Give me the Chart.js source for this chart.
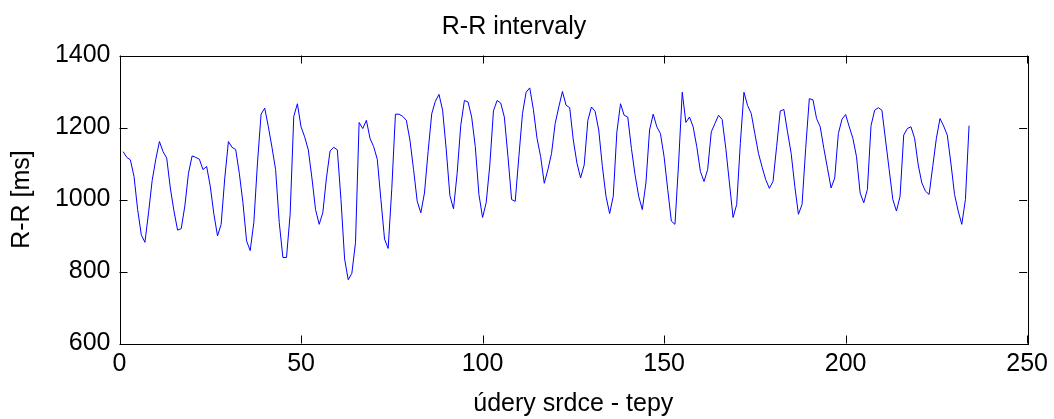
<!DOCTYPE html>
<html>
<head>
<meta charset="utf-8">
<script src="https://cdn.jsdelivr.net/npm/chart.js@4"></script>
<style>
  body { margin: 0; background: #fff; }
  #wrap { width: 1054px; height: 419px; }
</style>
</head>
<body>
<div id="wrap"><canvas id="chart-area" width="1054" height="419"></canvas></div>
<script>
// R-R intervals (ms), one per heart beat
var rrValues = [
  1133, 1117, 1110, 1064, 972, 902, 881, 963, 1053, 1112,
  1161, 1133, 1115, 1032, 968, 915, 919, 982, 1073, 1121,
  1117, 1112, 1083, 1092, 1037, 959, 899, 931, 1060, 1161,
  1145, 1139, 1073, 991, 885, 858, 936, 1101, 1237, 1254,
  1202, 1145, 1083, 936, 839, 839, 959, 1231, 1266, 1202,
  1174, 1138, 1060, 972, 931, 963, 1060, 1135, 1145, 1138,
  1000, 835, 777, 795, 880, 1214, 1197, 1220, 1170, 1147,
  1112, 1000, 890, 864, 1030, 1237, 1237, 1231, 1220, 1165,
  1083, 995, 963, 1018, 1133, 1238, 1273, 1292, 1248, 1138,
  1011, 974, 1073, 1206, 1275, 1271, 1229, 1147, 1014, 950,
  991, 1096, 1246, 1275, 1268, 1229, 1119, 1000, 995, 1119,
  1239, 1298, 1310, 1250, 1170, 1119, 1045, 1083, 1128, 1211,
  1257, 1300, 1262, 1255, 1165, 1101, 1060, 1096, 1220, 1257,
  1245, 1193, 1092, 1009, 961, 1009, 1188, 1266, 1234, 1229,
  1142, 1069, 1009, 972, 1046, 1193, 1237, 1202, 1183, 1119,
  1028, 940, 931, 1101, 1298, 1214, 1229, 1202, 1147, 1078,
  1050, 1083, 1188, 1211, 1234, 1222, 1142, 1046, 950, 986,
  1156, 1298, 1261, 1239, 1183, 1128, 1090, 1055, 1031, 1050,
  1147, 1246, 1250, 1188, 1128, 1037, 959, 986, 1142, 1280,
  1277, 1225, 1202, 1142, 1087, 1032, 1060, 1183, 1223, 1236,
  1202, 1170, 1119, 1018, 991, 1028, 1205, 1248, 1255, 1248,
  1165, 1083, 1000, 968, 1009, 1179, 1197, 1202, 1170, 1096,
  1046, 1023, 1014, 1092, 1170, 1225, 1204, 1179, 1101, 1014,
  968, 931, 1000, 1205
];
var xTicks = [0, 50, 100, 150, 200, 250];
var yTicks = [600, 800, 1000, 1200, 1400];

var points = rrValues.map(function(v, i) { return { x: i + 1, y: v }; });

var font = { family: "'Liberation Sans', Arial, sans-serif", size: 25 };

// MATLAB style box with inward ticks on all four sides
var boxPlugin = {
  id: 'box',
  afterDraw: function(chart) {
    var ctx = chart.ctx, a = chart.chartArea;
    var sx = chart.scales.x, sy = chart.scales.y;
    var len = 8;
    ctx.save();
    ctx.strokeStyle = '#000';
    ctx.lineWidth = 1;
    ctx.strokeRect(Math.round(a.left) + 0.5, Math.round(a.top) + 0.5,
                   Math.round(a.right - a.left), Math.round(a.bottom - a.top));
    ctx.beginPath();
    xTicks.forEach(function(t) {
      var px = Math.round(sx.getPixelForValue(t)) + 0.5;
      ctx.moveTo(px, a.bottom); ctx.lineTo(px, a.bottom - len);
      ctx.moveTo(px, a.top); ctx.lineTo(px, a.top + len);
    });
    yTicks.forEach(function(t) {
      var py = Math.round(sy.getPixelForValue(t)) + 0.5;
      ctx.moveTo(a.left, py); ctx.lineTo(a.left + len, py);
      ctx.moveTo(a.right, py); ctx.lineTo(a.right - len, py);
    });
    ctx.stroke();
    ctx.restore();
  }
};

var config = {
  type: 'line',
  data: {
    datasets: [{
      data: points,
      borderColor: '#0000FF',
      borderWidth: 1,
      pointRadius: 0,
      tension: 0,
      fill: false
    }]
  },
  options: {
    responsive: false,
    animation: false,
    layout: { padding: { left: 0, right: 26, top: 0, bottom: 0 } },
    plugins: {
      legend: { display: false },
      tooltip: { enabled: false },
      title: {
        display: true,
        text: 'R-R intervaly',
        color: '#000',
        font: { family: font.family, size: 25, weight: 'normal' },
        padding: { top: 12, bottom: 13.5 }
      }
    },
    scales: {
      x: {
        type: 'linear',
        min: 0, max: 250,
        afterFit: function(s) { s.height = 75.5; },
        grid: { display: false, drawTicks: false },
        border: { display: false },
        ticks: { stepSize: 50, color: '#000', font: font, padding: 6, maxRotation: 0,
                 callback: function(v) { return String(v); } },
        title: { display: true, text: 'údery srdce - tepy', color: '#000', font: font, padding: { top: 0, bottom: 0 } }
      },
      y: {
        min: 600, max: 1400,
        afterFit: function(s) { s.width = 119.5; },
        grid: { display: false, drawTicks: false },
        border: { display: false },
        ticks: { stepSize: 200, color: '#000', font: font, padding: 9,
                 callback: function(v) { return String(v); } },
        title: { display: true, text: 'R-R [ms]', color: '#000', font: font, padding: { top: 7, bottom: 0 } }
      }
    }
  },
  plugins: [boxPlugin]
};

window.onload = function() {
  var ctx = document.getElementById('chart-area').getContext('2d');
  window.rrChart = new Chart(ctx, config);
};
</script>
</body>
</html>
